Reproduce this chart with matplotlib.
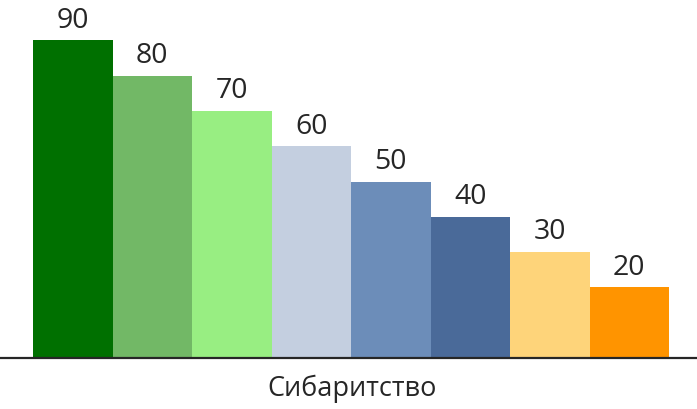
import matplotlib.pyplot as plt

values = [90, 80, 70, 60, 50, 40, 30, 20]
colors = ['#007000', '#72b866', '#98ee82', '#c4cfe0', '#6c8db9', '#4a6a99', '#fed47a', '#ff9400']
label = 'Сибаритство'

plt.rcParams['font.family'] = ['Open Sans', 'DejaVu Sans']

fig = plt.figure(figsize=(6.97, 4.09), dpi=100)
ax = fig.add_axes([0, (409-358)/409, 1, 358/409])

pos = list(range(len(values)))
ax.bar(pos, values, width=1.0, color=colors, linewidth=0)
for p, v in zip(pos, values):
    ax.text(p, v + 1.6, str(v), ha='center', va='bottom', fontsize=20.5, color='#262626')

ax.set_xlim(-0.5 - 33/79.5, 7.5 + 28/79.5)
ax.set_ylim(0, 358/3.53)
for s in ['top', 'right', 'left']:
    ax.spines[s].set_visible(False)
ax.spines['bottom'].set_color('#262626')
ax.spines['bottom'].set_linewidth(1.6)
ax.set_xticks([])
ax.set_yticks([])
fig.text(352/697, 1 - 389/409, label, ha='center', va='center', fontsize=19.5, color='#262626')

fig.savefig('out.png', dpi=100)
